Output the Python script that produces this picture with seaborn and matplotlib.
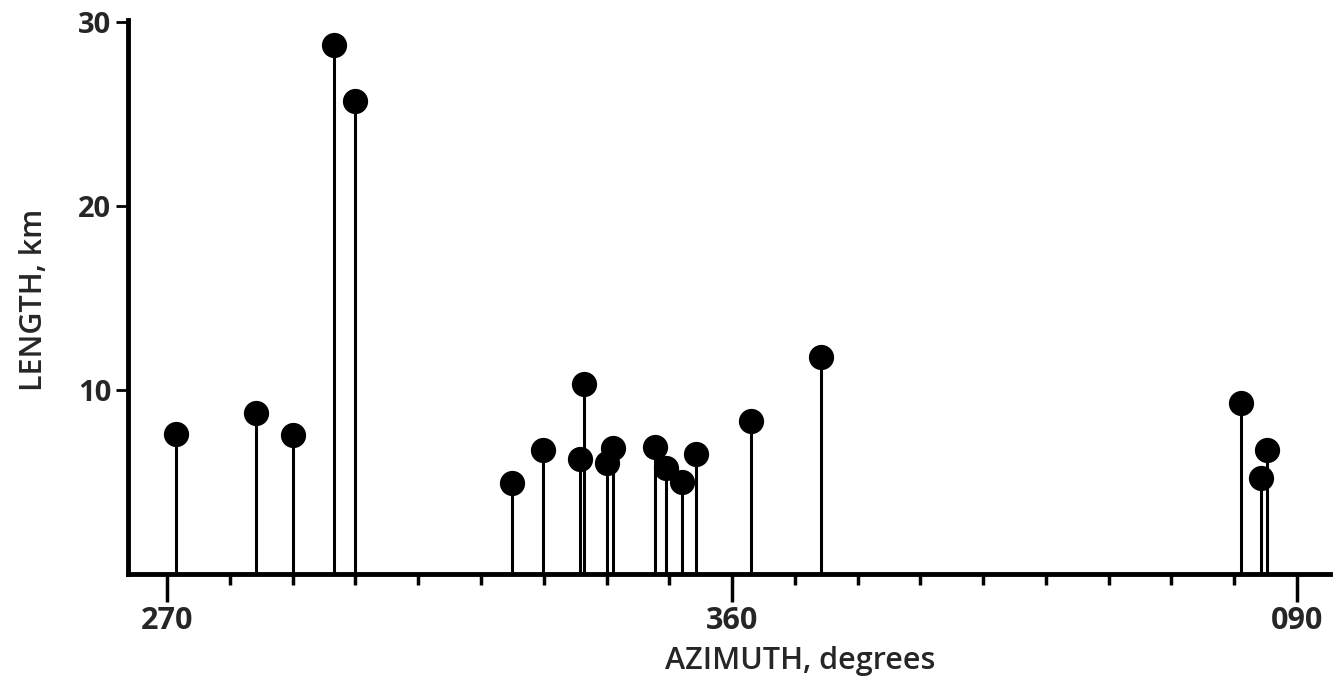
import numpy as np
import matplotlib
matplotlib.use("Agg")
import matplotlib.pyplot as plt
import seaborn as sns

# azimuth in degrees, 270 -> 360 -> 090 (stored as 270..450)
azimuth = [271.4, 284.2, 290.1, 296.6, 299.9, 324.9, 329.9, 335.8, 336.4, 340.0,
           341.0, 347.7, 349.5, 352.1, 354.2, 363.0, 374.1, 441.0, 444.3, 445.2]
length_km = [7.6, 8.75, 7.55, 28.7, 25.7, 4.95, 6.7, 6.25, 10.3, 6.0,
             6.85, 6.9, 5.75, 5.0, 6.5, 8.3, 11.75, 9.25, 5.2, 6.75]

major_ticks = [270, 360, 450]
major_labels = ["270", "360", "090"]
y_ticks = [10, 20, 30]

sns.set_style("white")
plt.rcParams["font.family"] = ["Open Sans", "DejaVu Sans"]

fig = plt.figure(figsize=(13.35, 6.79), dpi=100)
ax = fig.add_axes([0.096, 0.155, 0.9, 0.816])

# стебли и точки
ax.vlines(azimuth, 0, length_km, color="black", linewidth=2.2)
sns.scatterplot(x=azimuth, y=length_km, s=330, color="black", edgecolor="black",
                linewidth=0, zorder=3, ax=ax)

ax.set_xlim(263.8, 455.2)
ax.set_ylim(0, 30.1)

ax.set_xticks(major_ticks)
ax.set_xticklabels(major_labels, fontsize=22, fontweight="bold")
ax.set_xticks(np.arange(280, 450, 10), minor=True)
ax.set_yticks(y_ticks)
ax.set_yticklabels([str(v) for v in y_ticks], fontsize=21, fontweight="bold")

ax.tick_params(axis="x", which="major", direction="out", length=20, width=2.5,
               pad=3, bottom=True, color="black")
ax.tick_params(axis="x", which="minor", direction="out", length=8, width=2.5,
               bottom=True, color="black")
ax.tick_params(axis="y", direction="out", length=9, width=2, pad=3, left=True,
               color="black")

for side in ["top", "right"]:
    ax.spines[side].set_visible(False)
for side in ["left", "bottom"]:
    ax.spines[side].set_linewidth(3.5)
    ax.spines[side].set_color("black")

ax.set_xlabel("AZIMUTH, degrees", fontsize=22, fontweight="semibold")
ax.xaxis.set_label_coords(0.559, -0.13)
ax.set_ylabel("LENGTH, km", fontsize=22, fontweight="semibold")
ax.yaxis.set_label_coords(-0.066, 0.495)

fig.savefig("out.png", dpi=100)
